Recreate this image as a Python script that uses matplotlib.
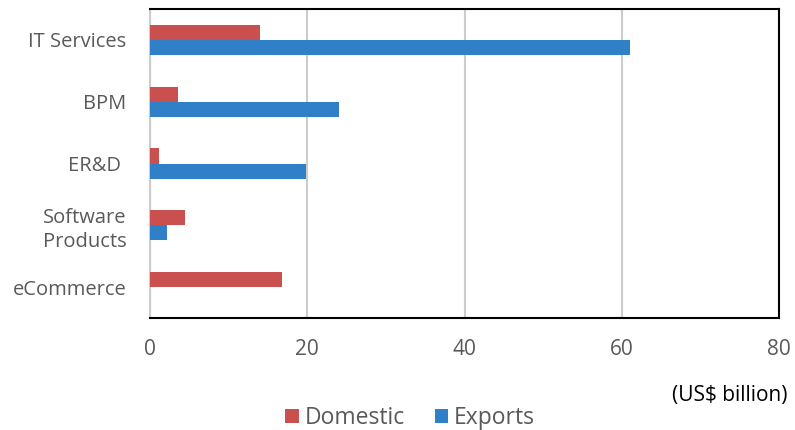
import numpy as np
import matplotlib
matplotlib.use("Agg")
import matplotlib.pyplot as plt

# IT-BPM industry revenue by segment
categories = ["IT Services", "BPM", "ER&D ", "Software\nProducts", "eCommerce"]
domestic = [14, 3.6, 1.2, 4.4, 16.8]
exports = [61, 24, 19.9, 2.1, 0]
xticks = [0, 20, 40, 60, 80]

red = "#C9504F"
blue = "#2F80C6"
grey = "#595959"

plt.rcParams["font.family"] = ["Open Sans", "DejaVu Sans"]

fig = plt.figure(figsize=(7.95, 4.3), dpi=100)
ax = fig.add_axes([150 / 795, 1 - 318 / 430, 629 / 795, 309 / 430])

y = np.arange(len(categories))
h = 0.245
ax.barh(y - h / 2, domestic, height=h, color=red, label="Domestic", zorder=3)
ax.barh(y + h / 2, exports, height=h, color=blue, label="Exports", zorder=3)

ax.set_ylim(len(categories) - 0.5, -0.5)
ax.set_xlim(0, 80)
ax.set_yticks(y)
ax.set_yticklabels(categories, fontsize=14.5, color=grey, ha="right",
                   linespacing=1.25)
ax.set_xticks(xticks)
ax.set_xticklabels([str(t) for t in xticks], fontsize=15, color=grey)
ax.tick_params(axis="y", length=0, pad=17)
ax.tick_params(axis="x", length=0, pad=15)
ax.xaxis.grid(True, color="#CCCCCC", linewidth=1.5, zorder=0)

for s in ["top", "right", "bottom"]:
    ax.spines[s].set_color("black")
    ax.spines[s].set_linewidth(1.5)
ax.spines["left"].set_color("#CCCCCC")
ax.spines["left"].set_linewidth(1.5)

fig.text(788 / 795, 1 - 396 / 430, "(US$ billion)", fontsize=15, color="black",
         ha="right", va="center")

fig.legend(loc="center", bbox_to_anchor=(410 / 795, 1 - 418 / 430), ncol=2,
           frameon=False, fontsize=16.5, handlelength=0.6, handleheight=0.6,
           handletextpad=0.25, columnspacing=1.3, labelcolor=grey,
           borderaxespad=0, borderpad=0)

fig.savefig("out.png", dpi=100)
